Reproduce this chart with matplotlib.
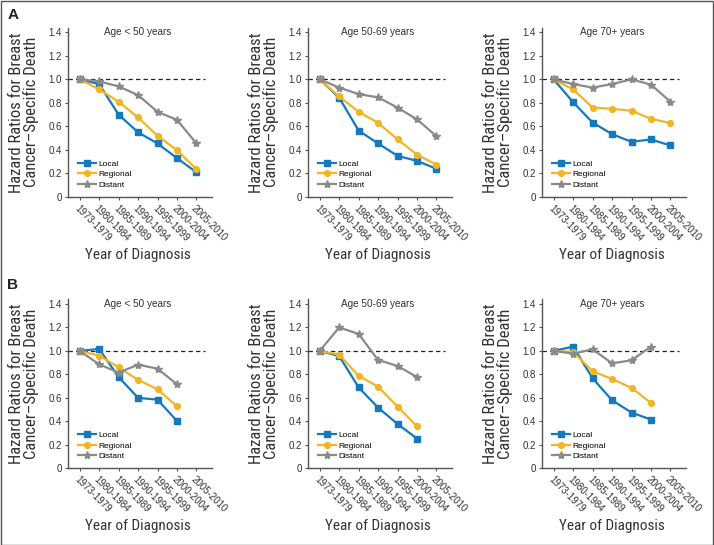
import matplotlib
matplotlib.use("Agg")
import matplotlib.pyplot as plt
from matplotlib.patches import Rectangle

NARROW = ['Roboto Condensed', 'Liberation Sans', 'DejaVu Sans']
REG = ['Liberation Sans', 'DejaVu Sans']

periods = ["1973-1979", "1980-1984", "1985-1989", "1990-1994", "1995-1999", "2000-2004", "2005-2010"]
age_groups = ["Age < 50 years", "Age 50-69 years", "Age 70+ years"]
series_names = ["Local", "Regional", "Distant"]

# Panel A
A_local = [
    [1.0, 0.96, 0.70, 0.55, 0.455, 0.33, 0.21],
    [1.0, 0.845, 0.565, 0.455, 0.35, 0.307, 0.24],
    [1.0, 0.805, 0.633, 0.534, 0.469, 0.489, 0.438],
]
A_regional = [
    [1.0, 0.915, 0.81, 0.676, 0.52, 0.398, 0.236],
    [1.0, 0.855, 0.724, 0.63, 0.49, 0.36, 0.275],
    [1.0, 0.915, 0.76, 0.75, 0.733, 0.665, 0.628],
]
A_distant = [
    [1.0, 0.983, 0.94, 0.866, 0.724, 0.656, 0.455],
    [1.0, 0.93, 0.875, 0.847, 0.76, 0.66, 0.517],
    [1.0, 0.96, 0.93, 0.96, 1.0, 0.955, 0.81],
]
# Panel B (no 2005-2010 estimate)
B_local = [
    [1.0, 1.017, 0.778, 0.60, 0.585, 0.403],
    [1.0, 0.957, 0.69, 0.517, 0.378, 0.253],
    [1.0, 1.037, 0.767, 0.58, 0.475, 0.415],
]
B_regional = [
    [1.0, 0.96, 0.86, 0.753, 0.673, 0.528],
    [1.0, 0.969, 0.787, 0.696, 0.526, 0.358],
    [1.0, 0.991, 0.827, 0.761, 0.685, 0.557],
]
B_distant = [
    [1.0, 0.886, 0.815, 0.883, 0.849, 0.716],
    [1.0, 1.2, 1.145, 0.923, 0.872, 0.778],
    [1.0, 0.977, 1.014, 0.895, 0.92, 1.037],
]

colors = {"Local": "#1479bd", "Regional": "#f0b627", "Distant": "#8a8a8a"}
markers = {"Local": ("s", 3.8), "Regional": ("o", 4.2), "Distant": ("*", 6.0)}
ytick_vals = [0, 0.2, 0.4, 0.6, 0.8, 1.0, 1.2, 1.4]
ytick_labels = ["0", "0.2", "0.4", "0.6", "0.8", "1.0", "1.2", "1.4"]

W, H = 714, 545
fig = plt.figure(figsize=(W / 100, H / 100), dpi=100)
fig.patches.append(Rectangle((0.5 / W, 0.5 / H), 1 - 1.5 / W, 1 - 1.5 / H, transform=fig.transFigure,
                             fill=False, ec="#555555", lw=1.0))

lefts = [68, 308, 542]
axw = 144
rows = [(27.6, 197.0, "A", 15, A_local, A_regional, A_distant),
        (299.3, 468.3, "B", 285, B_local, B_regional, B_distant)]

for (top, bot, letter, ly, L, R, D) in rows:
    fig.text(13 / W, 1 - ly / H, letter, fontsize=11, fontweight="bold",
             family=REG, ha="center", va="center", color="#222222")
    for i in range(3):
        ax = fig.add_axes([lefts[i] / W, 1 - bot / H, axw / W, (bot - top) / H])
        ax.set_xlim(-0.6, 6.8)
        ax.set_ylim(0, 1.44)
        for s in ["top", "right"]:
            ax.spines[s].set_visible(False)
        for s in ["left", "bottom"]:
            ax.spines[s].set_color("#555555")
            ax.spines[s].set_linewidth(1.0)
        ax.plot([-0.6, 6.45], [1.0, 1.0], ls=(0, (3.5, 2.5)), color="#222222", lw=0.9, zorder=1)
        for name, vals in zip(series_names, [L[i], R[i], D[i]]):
            m, ms = markers[name]
            ax.plot(range(len(vals)), vals, color=colors[name], lw=1.6, marker=m, ms=ms,
                    label=name, zorder=3)
        ax.set_xticks(range(len(periods)))
        ax.set_xticklabels(periods, rotation=-45, ha="left", va="top", rotation_mode="anchor",
                           fontsize=7, family=REG, color="#333333")
        ax.set_yticks(ytick_vals)
        ax.set_yticklabels(ytick_labels, fontsize=7, family=REG, color="#333333")
        ax.tick_params(axis="both", length=2.5, width=0.8, color="#555555", pad=2)
        ax.text(3.0, 1.4, age_groups[i], ha="center", va="center", fontsize=7.2, family=REG, color="#333333")
        ax.set_ylabel("Hazard Ratios for Breast\nCancer\u2013Specific Death", fontsize=12,
                      family=NARROW, color="#333333", linespacing=0.95, va="center", ha="center")
        ax.yaxis.set_label_coords(-44 / axw, 0.5)
        ax.text(3.0, -58 / (bot - top), "Year of Diagnosis", transform=ax.get_xaxis_transform(),
                ha="center", va="center", fontsize=11, family=NARROW, color="#333333")
        ax.legend(loc="lower left", bbox_to_anchor=(0.07, 0.05), frameon=False,
                  prop={"family": REG, "size": 6}, handlelength=2.2, handletextpad=0.2,
                  labelspacing=0.3, borderpad=0, borderaxespad=0)

fig.savefig("out.png", dpi=100)
